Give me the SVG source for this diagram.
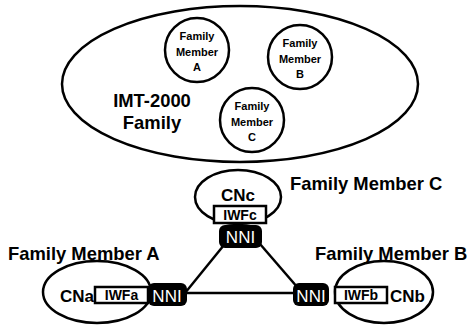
<svg xmlns="http://www.w3.org/2000/svg" width="467" height="325" viewBox="0 0 467 325">
<style>
text{font-family:"Liberation Sans",Arial,sans-serif;font-weight:bold;fill:#000}
.ol{fill:none;stroke:#000;stroke-width:2.5}
.sm{font-size:11px;text-anchor:middle}
.big{font-size:18.4px}
.cn{font-size:17px}
.iwf{fill:#fff;stroke:#000;stroke-width:2.5}
.iwft{font-size:14px;text-anchor:middle}
.nni{fill:#000}
.nnit{font-size:17px;text-anchor:middle;fill:#fff;font-weight:normal}
.ln{stroke:#000;stroke-width:2.5;fill:none}
</style>
<g id="family">
<ellipse class="ol" cx="240" cy="84" rx="178" ry="78"/>
<text class="big" x="152" y="107" text-anchor="middle">IMT-2000</text>
<text class="big" x="152" y="129" text-anchor="middle">Family</text>
</g>
<g id="memberA">
<circle class="ol" cx="197" cy="50" r="32"/>
<text class="sm" x="197" y="40">Family</text>
<text class="sm" x="197" y="56">Member</text>
<text class="sm" x="197" y="71">A</text>
</g>
<g id="memberB">
<circle class="ol" cx="300" cy="57" r="32"/>
<text class="sm" x="300" y="47">Family</text>
<text class="sm" x="300" y="63">Member</text>
<text class="sm" x="300" y="78">B</text>
</g>
<g id="memberC">
<circle class="ol" cx="252" cy="120" r="32"/>
<text class="sm" x="252" y="110">Family</text>
<text class="sm" x="252" y="126">Member</text>
<text class="sm" x="252" y="141">C</text>
</g>
<g id="connectors">
<line class="ln" x1="224" y1="245" x2="185" y2="293"/>
<line class="ln" x1="260" y1="244" x2="298" y2="288"/>
<line class="ln" x1="185" y1="293" x2="295" y2="293"/>
</g>
<g id="cnC">
<ellipse class="ol" cx="238" cy="197" rx="43" ry="27"/>
<text class="cn" x="238" y="201" text-anchor="middle">CNc</text>
<rect class="iwf" x="214" y="206" width="52" height="17"/>
<text class="iwft" x="240" y="220">IWFc</text>
<rect class="nni" x="219" y="225" width="43" height="23" rx="6"/>
<text class="nnit" x="240.5" y="243">NNI</text>
<text class="big" x="290" y="190">Family Member C</text>
</g>
<g id="cnA">
<ellipse class="ol" cx="97" cy="292" rx="54" ry="31"/>
<text class="big" x="8" y="260">Family Member A</text>
<text class="cn" x="60" y="302">CNa</text>
<rect class="iwf" x="95" y="287" width="53" height="16"/>
<text class="iwft" x="121.5" y="300">IWFa</text>
<rect class="nni" x="148" y="283" width="39" height="23" rx="6"/>
<text class="nnit" x="167" y="302">NNI</text>
</g>
<g id="cnB">
<ellipse class="ol" cx="384" cy="292" rx="49" ry="31"/>
<text class="big" x="315" y="260">Family Member B</text>
<rect class="nni" x="293" y="283" width="36" height="23" rx="6"/>
<text class="nnit" x="311" y="302">NNI</text>
<rect class="iwf" x="335" y="287" width="52" height="16"/>
<text class="iwft" x="361" y="300">IWFb</text>
<text class="cn" x="390" y="302">CNb</text>
</g>
</svg>
